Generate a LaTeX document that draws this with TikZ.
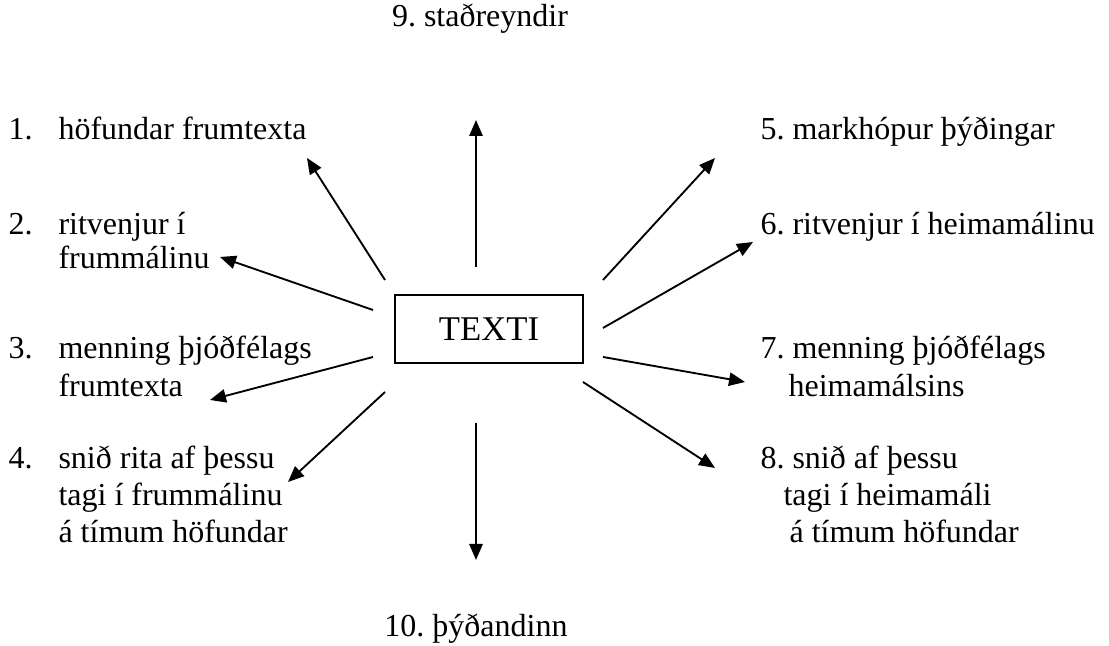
\documentclass[tikz,border=0pt]{standalone}
\usepackage{fontspec}
\setmainfont{Liberation Serif}
\usetikzlibrary{arrows.meta}
\frenchspacing
\begin{document}
\begin{tikzpicture}
[x=0.375pt,y=-0.375pt,
  boxdecorate/.style={draw,line width=0.6pt,inner sep=0pt,minimum width=70.5pt,
    minimum height=25.5pt,font=\fontsize{13}{15}\selectfont},%
  labeldecorate/.style={anchor=base west,inner sep=0pt,font=\fontsize{12}{14}\selectfont},%
  titledecorate/.style={anchor=base,inner sep=0pt,font=\fontsize{12}{14}\selectfont},%
  arrowdecorate/.style={-{Triangle[length=6pt,width=5pt]},line width=0.7pt}]
\useasboundingbox (0,0) rectangle (1109,646);
%% centre box
\node (texti) at (489,329) [boxdecorate] {TEXTI};
%% top and bottom labels
\node (top) at (480,27) [titledecorate] {9. staðreyndir};
\node (bottom) at (476,637) [titledecorate] {10. þýðandinn};
%% left and right labels
\foreach \nodename/\x/\y/\words in {n1/8/140/1., l1/58/140/höfundar frumtexta,
  n2/8/235/2., l2a/58/235/ritvenjur í, l2b/58/269/frummálinu,
  n3/8/359/3., l3a/58/359/menning þjóðfélags, l3b/58/397/frumtexta,
  n4/8/469/4., l4a/58/469/snið rita af þessu, l4b/58/506/tagi í frummálinu,
  l4c/58/543/á tímum höfundar,
  r5/760/140/5. markhópur þýðingar, r6/760/235/6. ritvenjur í heimamálinu,
  r7a/760/359/7. menning þjóðfélags, r7b/788/397/heimamálsins,
  r8a/760/469/8. snið af þessu, r8b/783/506/tagi í heimamáli,
  r8c/789/543/á tímum höfundar} {
  \node (\nodename) at (\x,\y) [labeldecorate] {\words};
}
%% arrow ends
\foreach \tailname/\tx/\ty/\tipname/\hx/\hy in {t1/385/280/h1/307/158,
  t2/373/310/h2/220/257, t3/373/357/h3/210/400, t4/385/392/h4/288/482,
  t5/603/280/h5/715/158, t6/603/328/h6/753/242, t7/603/357/h7/745/382,
  t8/583/382/h8/715/468, t9/476/267/h9/476/120, t10/476/423/h10/476/560} {
  \coordinate (\tailname) at (\tx,\ty);
  \coordinate (\tipname) at (\hx,\hy);
}
%% arrows
\path
(t1) edge[arrowdecorate] (h1)
(t2) edge[arrowdecorate] (h2)
(t3) edge[arrowdecorate] (h3)
(t4) edge[arrowdecorate] (h4)
(t5) edge[arrowdecorate] (h5)
(t6) edge[arrowdecorate] (h6)
(t7) edge[arrowdecorate] (h7)
(t8) edge[arrowdecorate] (h8)
(t9) edge[arrowdecorate] (h9)
(t10) edge[arrowdecorate] (h10);
\end{tikzpicture}
\end{document}
